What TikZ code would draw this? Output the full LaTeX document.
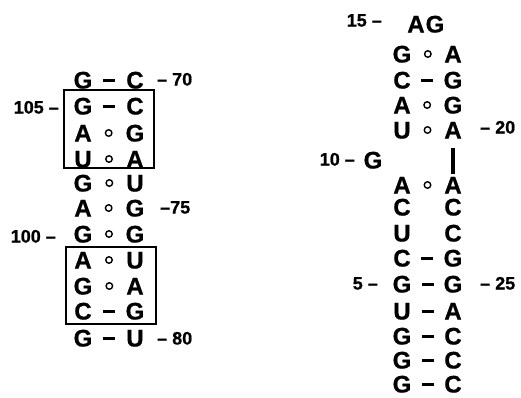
\documentclass[tikz,border=0pt]{standalone}
\usepackage{fontspec}
\setmainfont{Liberation Sans}[BoldFeatures={FakeBold=0.8}]
\usetikzlibrary{positioning}
\tikzset{>=stealth}

\begin{document}
\begin{tikzpicture}[x=1pt, y=-1pt,
	base/.style={inner sep=0pt, text height=17pt, text depth=0pt, font=\bfseries\fontsize{24}{24}\selectfont},
	num/.style={inner sep=0pt, text height=13pt, text depth=0pt, font=\bfseries\fontsize{18}{18}\selectfont},
	wc/.style={fill, inner sep=0pt, minimum width=12pt, minimum height=3pt},
	gu/.style={draw, circle, line width=1.4pt, inner sep=0pt, minimum size=6.5pt},
	loopbox/.style={draw, line width=1.2pt}]
		\useasboundingbox (0,0) rectangle (521,397);
		
		\node [base] (l106) at (83,80) {G};
		\node [base] (l105) at (83,106) {G};
		\node [base] (l104) at (83,133) {A};
		\node [base] (l103) at (83,159) {U};
		\node [base] (l102) at (83,183) {G};
		\node [base] (l101) at (83,208) {A};
		\node [base] (l100) at (83,234) {G};
		\node [base] (l99) at (83,260) {A};
		\node [base] (l98) at (83,286) {G};
		\node [base] (l97) at (83,311) {C};
		\node [base] (l96) at (83,338) {G};
		
		\node [base] (r70) at (135,80) {C};
		\node [base] (r71) at (135,106) {C};
		\node [base] (r72) at (135,133) {G};
		\node [base] (r73) at (135,159) {A};
		\node [base] (r74) at (135,183) {U};
		\node [base] (r75) at (135,208) {G};
		\node [base] (r76) at (135,234) {G};
		\node [base] (r77) at (135,260) {U};
		\node [base] (r78) at (135,286) {A};
		\node [base] (r79) at (135,311) {G};
		\node [base] (r80) at (135,338) {U};
		
		\path (l106) -- node [wc] {} (r70);
		\path (l105) -- node [wc] {} (r71);
		\path (l104) -- node [gu] {} (r72);
		\path (l103) -- node [gu] {} (r73);
		\path (l102) -- node [gu] {} (r74);
		\path (l101) -- node [gu] {} (r75);
		\path (l100) -- node [gu] {} (r76);
		\path (l99) -- node [gu] {} (r77);
		\path (l98) -- node [gu] {} (r78);
		\path (l97) -- node [wc] {} (r79);
		\path (l96) -- node [wc] {} (r80);
		
		\draw [loopbox] (64,90) rectangle (154,168);
		\draw [loopbox] (66,247) rectangle (156,324);
		
		\node [num, anchor=west] (t70) at (157,79) {-- 70};
		\node [num, anchor=east] (t105) at (59,107) {105 --};
		\node [num, anchor=west] (t75) at (160,207) {--75};
		\node [num, anchor=east] (t100) at (56,236) {100 --};
		\node [num, anchor=west] (t80) at (157,338) {-- 80};
		
		\node [base] (n1) at (402,384) {G};
		\node [base] (n2) at (402,360) {G};
		\node [base] (n3) at (402,336) {G};
		\node [base] (n4) at (402,311) {U};
		\node [base] (n5) at (402,284) {G};
		\node [base] (n6) at (402,258) {C};
		\node [base] (n7) at (402,233) {U};
		\node [base] (n8) at (402,207) {C};
		\node [base] (n9) at (402,185) {A};
		\node [base] (n10) at (373,160) {G};
		\node [base] (n11) at (402,130) {U};
		\node [base] (n12) at (402,105) {A};
		\node [base] (n13) at (402,80) {C};
		\node [base] (n14) at (402,54) {G};
		\node [base] (n15) at (416,24) {A};
		\node [base] (n16) at (435,24) {G};
		\node [base] (n17) at (453,54) {A};
		\node [base] (n18) at (453,80) {G};
		\node [base] (n19) at (453,105) {G};
		\node [base] (n20) at (453,130) {A};
		\node [base] (n21) at (453,185) {A};
		\node [base] (n22) at (453,207) {C};
		\node [base] (n23) at (453,233) {C};
		\node [base] (n24) at (453,258) {G};
		\node [base] (n25) at (453,284) {G};
		\node [base] (n26) at (453,311) {A};
		\node [base] (n27) at (453,336) {C};
		\node [base] (n28) at (453,360) {C};
		\node [base] (n29) at (453,384) {C};
		
		\path (n14) -- node [gu] {} (n17);
		\path (n13) -- node [wc] {} (n18);
		\path (n12) -- node [gu] {} (n19);
		\path (n11) -- node [gu] {} (n20);
		\path (n9) -- node [gu] {} (n21);
		\path (n6) -- node [wc] {} (n24);
		\path (n5) -- node [wc] {} (n25);
		\path (n4) -- node [wc] {} (n26);
		\path (n3) -- node [wc] {} (n27);
		\path (n2) -- node [wc] {} (n28);
		\path (n1) -- node [wc] {} (n29);
		
		\draw [line width=3.8pt, shorten <=9pt, shorten >=2pt] (n20) -- (n21.north);
		
		\node [num, anchor=east] (t15) at (382,20) {15 --};
		\node [num, anchor=west] (t20) at (480,127) {-- 20};
		\node [num, anchor=east] (t10) at (355,159) {10 --};
		\node [num, anchor=east] (t5) at (378,283) {5 --};
		\node [num, anchor=west] (t25) at (480,283) {-- 25};
		\end{tikzpicture}
\end{document}
